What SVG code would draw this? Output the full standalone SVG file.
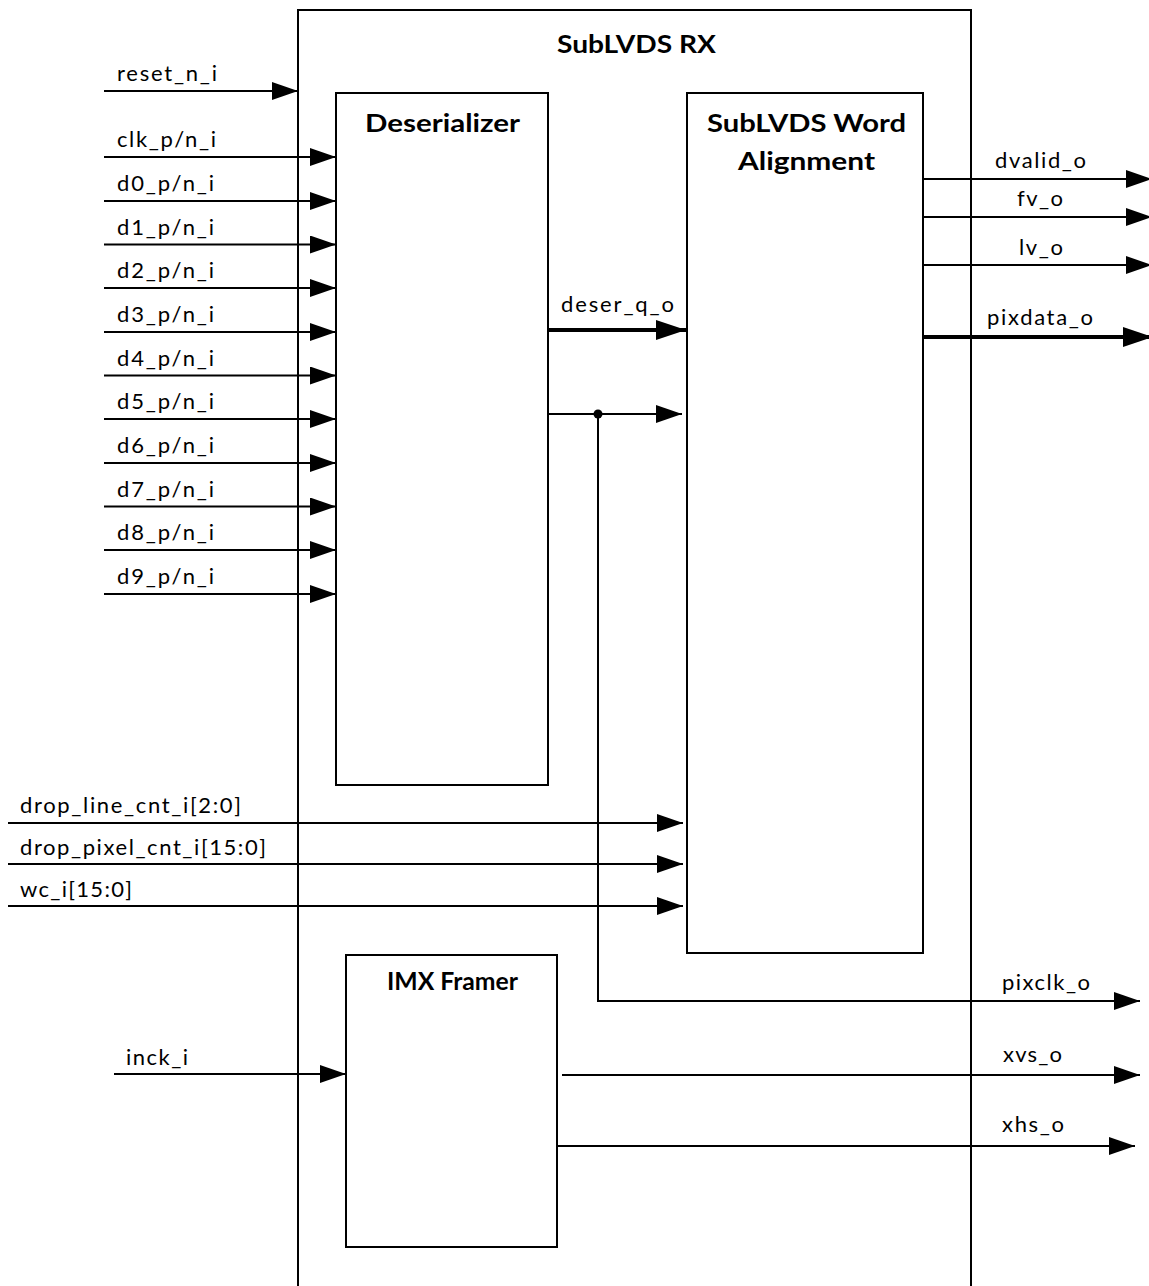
<svg xmlns="http://www.w3.org/2000/svg" width="1149" height="1286" viewBox="0 0 1149 1286">
<style>
.box{fill:#fff;stroke:#000;stroke-width:2}
.w{fill:none;stroke:#000;stroke-width:2}
.bus{fill:none;stroke:#000;stroke-width:4}
.lbl{font-family:Lato,"Liberation Sans",sans-serif;font-size:22px;fill:#000}
.ttl{font-family:Lato,"Liberation Sans",sans-serif;font-size:24px;font-weight:bold;fill:#000}
</style>
<defs>
<marker id="arr" markerUnits="userSpaceOnUse" markerWidth="26" markerHeight="18" refX="26" refY="9" orient="auto"><path d="M0,0 L26,9 L0,18 Z" fill="#000"/></marker>
<marker id="arrB" markerUnits="userSpaceOnUse" markerWidth="30" markerHeight="20" refX="30" refY="10" orient="auto"><path d="M0,0 L30,10 L0,20 Z" fill="#000"/></marker>
</defs>
<rect width="1149" height="1286" fill="#fff"/>

<g id="subLVDS_RX">
<path class="w" d="M298,1290 V10 H971 V1290"/>
<text class="ttl" x="557" y="53" textLength="159" lengthAdjust="spacingAndGlyphs">SubLVDS RX</text>
</g>

<g id="deserializer">
<rect class="box" x="336" y="93" width="212" height="692"/>
<text class="ttl" x="365" y="132" textLength="155" lengthAdjust="spacingAndGlyphs">Deserializer</text>
</g>

<g id="word_alignment">
<rect class="box" x="687" y="93" width="236" height="860"/>
<text class="ttl" x="707" y="132" textLength="199" lengthAdjust="spacingAndGlyphs">SubLVDS Word</text>
<text class="ttl" x="738" y="170" textLength="137" lengthAdjust="spacingAndGlyphs">Alignment</text>
</g>

<g id="imx_framer">
<rect class="box" x="346" y="955" width="211" height="292"/>
<text class="ttl" x="387" y="990" font-size="22" textLength="131" lengthAdjust="spacingAndGlyphs">IMX Framer</text>
</g>

<g id="connectors">
<line class="w" x1="104" y1="91" x2="298" y2="91" marker-end="url(#arr)"/>
<line class="w" x1="104" y1="157" x2="336" y2="157" marker-end="url(#arr)"/>
<line class="w" x1="104" y1="201" x2="336" y2="201" marker-end="url(#arr)"/>
<line class="w" x1="104" y1="244.5" x2="336" y2="244.5" marker-end="url(#arr)"/>
<line class="w" x1="104" y1="288" x2="336" y2="288" marker-end="url(#arr)"/>
<line class="w" x1="104" y1="332" x2="336" y2="332" marker-end="url(#arr)"/>
<line class="w" x1="104" y1="375.5" x2="336" y2="375.5" marker-end="url(#arr)"/>
<line class="w" x1="104" y1="419" x2="336" y2="419" marker-end="url(#arr)"/>
<line class="w" x1="104" y1="463" x2="336" y2="463" marker-end="url(#arr)"/>
<line class="w" x1="104" y1="506.5" x2="336" y2="506.5" marker-end="url(#arr)"/>
<line class="w" x1="104" y1="550" x2="336" y2="550" marker-end="url(#arr)"/>
<line class="w" x1="104" y1="594" x2="336" y2="594" marker-end="url(#arr)"/>

<line class="bus" x1="548" y1="330" x2="686" y2="330" marker-end="url(#arrB)"/>
<line class="w" x1="548" y1="414" x2="682" y2="414" marker-end="url(#arr)"/>
<circle cx="598" cy="414" r="4.5" fill="#000"/>
<path class="w" d="M598,414 V1001 H1140" marker-end="url(#arr)"/>

<line class="w" x1="8" y1="823" x2="683" y2="823" marker-end="url(#arr)"/>
<line class="w" x1="8" y1="864" x2="683" y2="864" marker-end="url(#arr)"/>
<line class="w" x1="8" y1="906" x2="683" y2="906" marker-end="url(#arr)"/>

<line class="w" x1="923" y1="179" x2="1152" y2="179" marker-end="url(#arr)"/>
<line class="w" x1="923" y1="217" x2="1152" y2="217" marker-end="url(#arr)"/>
<line class="w" x1="923" y1="265" x2="1152" y2="265" marker-end="url(#arr)"/>
<line class="bus" x1="922" y1="337" x2="1153" y2="337" marker-end="url(#arrB)"/>

<line class="w" x1="114" y1="1074" x2="346" y2="1074" marker-end="url(#arr)"/>
<line class="w" x1="562" y1="1075" x2="1140" y2="1075" marker-end="url(#arr)"/>
<line class="w" x1="557" y1="1146" x2="1135" y2="1146" marker-end="url(#arr)"/>
</g>

<g id="labels">
<text class="lbl" x="117" y="81" textLength="100" lengthAdjust="spacing">reset_n_i</text>
<text class="lbl" x="117" y="147" textLength="99" lengthAdjust="spacing">clk_p/n_i</text>
<text class="lbl" x="117" y="191" textLength="97" lengthAdjust="spacing">d0_p/n_i</text>
<text class="lbl" x="117" y="234.5" textLength="97" lengthAdjust="spacing">d1_p/n_i</text>
<text class="lbl" x="117" y="278" textLength="97" lengthAdjust="spacing">d2_p/n_i</text>
<text class="lbl" x="117" y="322" textLength="97" lengthAdjust="spacing">d3_p/n_i</text>
<text class="lbl" x="117" y="365.5" textLength="97" lengthAdjust="spacing">d4_p/n_i</text>
<text class="lbl" x="117" y="409" textLength="97" lengthAdjust="spacing">d5_p/n_i</text>
<text class="lbl" x="117" y="453" textLength="97" lengthAdjust="spacing">d6_p/n_i</text>
<text class="lbl" x="117" y="496.5" textLength="97" lengthAdjust="spacing">d7_p/n_i</text>
<text class="lbl" x="117" y="540" textLength="97" lengthAdjust="spacing">d8_p/n_i</text>
<text class="lbl" x="117" y="584" textLength="97" lengthAdjust="spacing">d9_p/n_i</text>
<text class="lbl" x="561" y="312" textLength="113" lengthAdjust="spacing">deser_q_o</text>
<text class="lbl" x="995" y="168" textLength="91" lengthAdjust="spacing">dvalid_o</text>
<text class="lbl" x="1017" y="206" textLength="46" lengthAdjust="spacing">fv_o</text>
<text class="lbl" x="1019" y="255" textLength="44" lengthAdjust="spacing">lv_o</text>
<text class="lbl" x="987" y="325" textLength="106" lengthAdjust="spacing">pixdata_o</text>
<text class="lbl" x="20" y="813" textLength="221" lengthAdjust="spacing">drop_line_cnt_i[2:0]</text>
<text class="lbl" x="20" y="855" textLength="246" lengthAdjust="spacing">drop_pixel_cnt_i[15:0]</text>
<text class="lbl" x="20" y="897" textLength="112" lengthAdjust="spacing">wc_i[15:0]</text>
<text class="lbl" x="1002" y="990" textLength="88" lengthAdjust="spacing">pixclk_o</text>
<text class="lbl" x="126" y="1065" textLength="62" lengthAdjust="spacing">inck_i</text>
<text class="lbl" x="1003" y="1062" textLength="59" lengthAdjust="spacing">xvs_o</text>
<text class="lbl" x="1002" y="1132" textLength="62" lengthAdjust="spacing">xhs_o</text>
</g>
</svg>
